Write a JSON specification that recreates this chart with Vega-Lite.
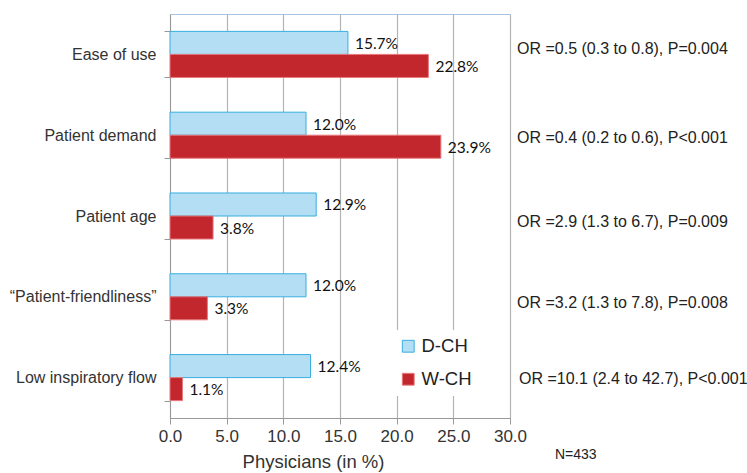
{
  "$schema": "https://vega.github.io/schema/vega-lite/v6.json",
  "width": 340,
  "height": 404,
  "autosize": "none",
  "padding": {"left": 170, "top": 14, "right": 237, "bottom": 55},
  "background": "white",
  "config": {
    "view": {"stroke": "#a9c4e6", "strokeWidth": 1},
    "font": "Liberation Sans"
  },
  "datasets": {
    "bars": [
      {"category": "Ease of use", "group": "D-CH", "value": 15.7, "label": "15.7%"},
      {"category": "Ease of use", "group": "W-CH", "value": 22.8, "label": "22.8%"},
      {"category": "Patient demand", "group": "D-CH", "value": 12.0, "label": "12.0%"},
      {"category": "Patient demand", "group": "W-CH", "value": 23.9, "label": "23.9%"},
      {"category": "Patient age", "group": "D-CH", "value": 12.9, "label": "12.9%"},
      {"category": "Patient age", "group": "W-CH", "value": 3.8, "label": "3.8%"},
      {"category": "“Patient-friendliness”", "group": "D-CH", "value": 12.0, "label": "12.0%"},
      {"category": "“Patient-friendliness”", "group": "W-CH", "value": 3.3, "label": "3.3%"},
      {"category": "Low inspiratory flow", "group": "D-CH", "value": 12.4, "label": "12.4%"},
      {"category": "Low inspiratory flow", "group": "W-CH", "value": 1.1, "label": "1.1%"}
    ],
    "ors": [
      {"category": "Ease of use", "text": "OR =0.5 (0.3 to 0.8), P=0.004", "row": 1},
      {"category": "Patient demand", "text": "OR =0.4 (0.2 to 0.6), P<0.001", "row": 2},
      {"category": "Patient age", "text": "OR =2.9 (1.3 to 6.7), P=0.009", "row": 3},
      {"category": "“Patient-friendliness”", "text": "OR =3.2 (1.3 to 7.8), P=0.008", "row": 3},
      {"category": "Low inspiratory flow", "text": "OR =10.1 (2.4 to 42.7), P<0.001", "row": 5}
    ],
    "note": [{"category": "Low inspiratory flow", "text": "N=433"}]
  },
  "encoding": {
    "y": {"field": "category", "type": "nominal", "sort": ["Ease of use", "Patient demand", "Patient age", "“Patient-friendliness”", "Low inspiratory flow"]}
  },
  "layer": [
    {
      "data": {"name": "bars"},
      "mark": {"type": "bar", "strokeWidth": 1},
      "encoding": {
        "y": {
          "field": "category",
          "type": "nominal",
          "sort": ["Ease of use", "Patient demand", "Patient age", "“Patient-friendliness”", "Low inspiratory flow"],
          "scale": {"paddingInner": 0.43, "paddingOuter": 0.215},
          "axis": {
            "title": null,
            "labelFontSize": 16,
            "labelColor": "#333333",
            "labelPadding": 8,
            "tickBand": "extent",
            "tickColor": "#999999",
            "tickSize": 6,
            "domainColor": "#999999",
            "grid": false
          }
        },
        "yOffset": {"field": "group", "type": "nominal", "sort": ["D-CH", "W-CH"], "scale": {"paddingInner": 0, "paddingOuter": 0}},
        "x": {
          "field": "value",
          "type": "quantitative",
          "scale": {"domain": [0, 30], "nice": false},
          "axis": {
            "title": "Physicians (in %)",
            "titleFontSize": 18.5,
            "titleFontWeight": "normal",
            "titleColor": "#333333",
            "titleX": 143,
            "titleY": 43,
            "titleAlign": "center",
            "titleBaseline": "middle",
            "values": [0, 5, 10, 15, 20, 25, 30],
            "format": ".1f",
            "labelFlush": false,
            "labelOverlap": false,
            "labelFontSize": 17,
            "labelColor": "#333333",
            "labelPadding": 4,
            "tickColor": "#999999",
            "tickSize": 6,
            "domainColor": "#999999",
            "grid": true,
            "gridColor": "#b4b4b4",
            "gridWidth": 1.2
          }
        },
        "color": {
          "field": "group",
          "type": "nominal",
          "scale": {"domain": ["D-CH", "W-CH"], "range": ["#b4def3", "#c1272d"]},
          "legend": {
            "title": null,
            "orient": "none",
            "legendX": 222,
            "legendY": 316,
            "fillColor": "white",
            "padding": 7,
            "symbolType": "square",
            "symbolSize": 140,
            "symbolStrokeWidth": 1,
            "labelFontSize": 18.5,
            "labelColor": "#222222",
            "labelOffset": 4,
            "rowPadding": 14
          }
        },
        "stroke": {
          "field": "group",
          "type": "nominal",
          "scale": {"domain": ["D-CH", "W-CH"], "range": ["#38aee0", "#e8787c"]},
          "legend": null
        }
      }
    },
    {
      "data": {"name": "bars"},
      "mark": {"type": "text", "align": "left", "dx": 7, "dy": 1, "fontSize": 15.5, "font": "Lato", "color": "#111111"},
      "encoding": {
        "yOffset": {"field": "group", "type": "nominal", "sort": ["D-CH", "W-CH"]},
        "x": {"field": "value", "type": "quantitative"},
        "text": {"field": "label", "type": "nominal"}
      }
    },
    {
      "data": {"name": "ors"},
      "transform": [{"filter": "datum.row == 1"}],
      "mark": {"type": "text", "align": "left", "dx": 7, "dy": -5, "fontSize": 16, "color": "#222222"},
      "encoding": {"x": {"datum": 30}, "text": {"field": "text", "type": "nominal"}}
    },
    {
      "data": {"name": "ors"},
      "transform": [{"filter": "datum.row == 2"}],
      "mark": {"type": "text", "align": "left", "dx": 7, "dy": 3, "fontSize": 16, "color": "#222222"},
      "encoding": {"x": {"datum": 30}, "text": {"field": "text", "type": "nominal"}}
    },
    {
      "data": {"name": "ors"},
      "transform": [{"filter": "datum.row == 3"}],
      "mark": {"type": "text", "align": "left", "dx": 7, "dy": 6, "fontSize": 16, "color": "#222222"},
      "encoding": {"x": {"datum": 30}, "text": {"field": "text", "type": "nominal"}}
    },
    {
      "data": {"name": "ors"},
      "transform": [{"filter": "datum.row == 5"}],
      "mark": {"type": "text", "align": "left", "dx": 9, "dy": 1, "fontSize": 16, "color": "#222222"},
      "encoding": {"x": {"datum": 30}, "text": {"field": "text", "type": "nominal"}}
    },
    {
      "data": {"name": "note"},
      "mark": {"type": "text", "align": "left", "dx": 45, "dy": 77, "fontSize": 14, "color": "#222222"},
      "encoding": {"x": {"datum": 30}, "text": {"field": "text", "type": "nominal"}}
    }
  ]
}
